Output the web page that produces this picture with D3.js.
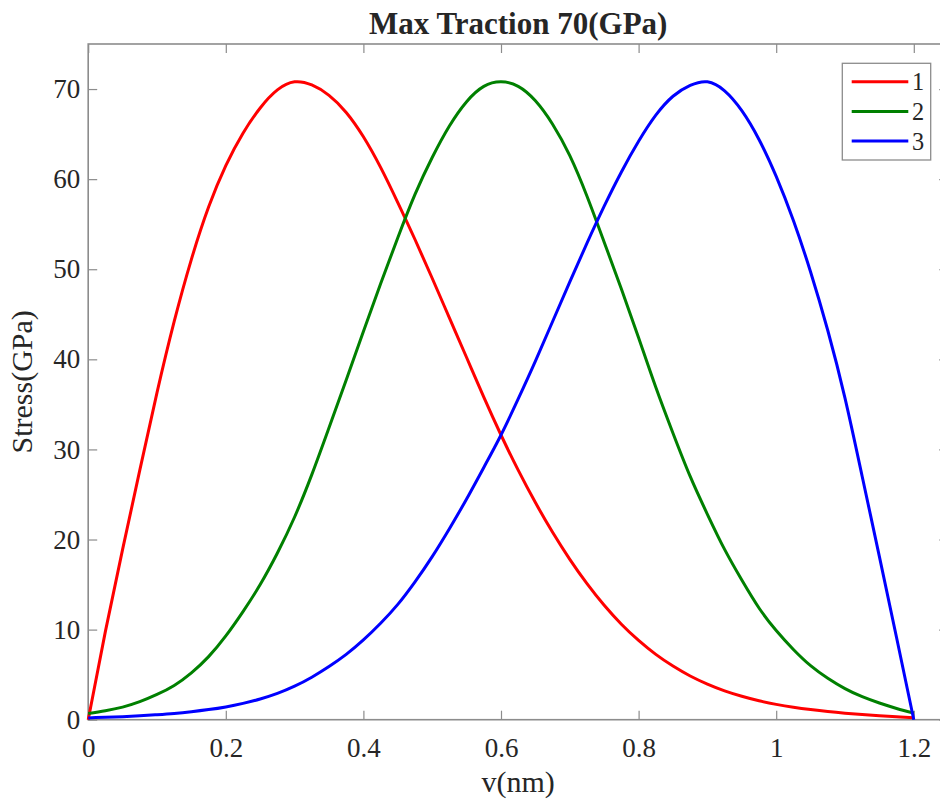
<!DOCTYPE html>
<html>
<head>
<meta charset="utf-8">
<script src="https://cdn.jsdelivr.net/npm/d3@7"></script>
<style>
  html, body { margin: 0; padding: 0; background: #fff; overflow: hidden; }
  svg { display: block; }
  text { font-family: "Liberation Serif", "Times New Roman", serif; fill: #262626; }
</style>
</head>
<body>
<script>
// ---- data ----
const displacement = [0,0.025,0.05,0.075,0.1,0.125,0.15,0.175,0.2,0.225,0.25,0.275,0.3,0.325,0.35,0.375,0.4,0.425,0.45,0.475,0.5,0.525,0.55,0.575,0.6,0.625,0.65,0.675,0.7,0.725,0.75,0.775,0.8,0.825,0.85,0.875,0.9,0.925,0.95,0.975,1.0,1.025,1.05,1.075,1.1,1.125,1.15,1.175,1.2];
const series1 = [0,9.8,18.9,27.7,36.3,44.2,51.1,56.9,61.5,65.1,67.9,69.9,70.8,70.45,69.3,67.4,64.7,61.3,57.4,53.3,49.0,44.6,40.2,35.8,31.6,27.7,24.1,20.8,17.8,15.1,12.7,10.6,8.8,7.25,5.95,4.85,3.95,3.2,2.6,2.1,1.7,1.38,1.12,0.9,0.72,0.57,0.44,0.33,0.23];
const series2 = [0.7,1.0,1.4,2.0,2.8,3.8,5.2,7.0,9.3,12.0,15.0,18.5,22.5,27.2,32.4,37.7,43.1,48.4,53.5,58.3,62.4,65.9,68.6,70.3,70.8,70.3,68.7,66.1,62.6,58.1,53.0,47.8,42.4,36.9,31.8,27.0,22.8,18.9,15.5,12.4,9.9,7.8,6.0,4.6,3.45,2.55,1.85,1.25,0.75];
const series3 = [0.2,0.27,0.34,0.43,0.55,0.69,0.88,1.12,1.42,1.81,2.3,2.92,3.72,4.72,5.9,7.25,8.85,10.7,12.8,15.3,18.1,21.2,24.5,28.0,31.6,35.6,39.8,44.2,48.6,52.9,57.0,60.8,64.2,67.1,69.2,70.4,70.8,69.8,67.6,64.4,60.3,55.4,49.7,43.2,35.7,27.0,18.1,9.1,0];
const seriesNames = ["1","2","3"];
const seriesColors = ["#ff0000","#008000","#0000ff"];
const xTicks = [0,0.2,0.4,0.6,0.8,1,1.2];
const xTickLabels = ["0","0.2","0.4","0.6","0.8","1","1.2"];
const yTicks = [0,10,20,30,40,50,60,70];
const xDomain = [0,1.25];
const yDomain = [0,75];
const titleText = "Max Traction 70(GPa)";
const xLabelText = "v(nm)";
const yLabelText = "Stress(GPa)";

// ---- layout ----
const W = 940, H = 800;
const L = 88.2, R = 948.2, T = 44, B = 719.7;

const svg = d3.select("body").append("svg").attr("width", W).attr("height", H);

const x = d3.scaleLinear().domain(xDomain).range([L, R]);
const y = d3.scaleLinear().domain(yDomain).range([B, T]);

const axisColor = "#8c8c8c";
const tickLen = 9;
const serif = '"Liberation Serif", "Times New Roman", serif';

// box
svg.append("rect").attr("x", L).attr("y", T).attr("width", R - L).attr("height", B - T)
  .attr("fill", "none").attr("stroke", axisColor).attr("stroke-width", 1.6);

// axes (ticks inside)
function styleAxis(g) {
  g.attr("font-family", serif);
  g.select(".domain").remove();
  g.selectAll(".tick line").attr("stroke", axisColor).attr("stroke-width", 1.2);
}
const xb = svg.append("g").attr("transform", `translate(0,${B})`)
  .call(d3.axisBottom(x).tickValues(xTicks).tickSize(-tickLen).tickFormat((d,i) => xTickLabels[i]).tickPadding(18));
styleAxis(xb);
xb.selectAll(".tick text").attr("font-size", 27).attr("fill", "#262626").attr("dy", "0.71em");
const xt = svg.append("g").attr("transform", `translate(0,${T})`)
  .call(d3.axisTop(x).tickValues(xTicks).tickSize(-tickLen).tickFormat(""));
styleAxis(xt);

const yl = svg.append("g").attr("transform", `translate(${L},0)`)
  .call(d3.axisLeft(y).tickValues(yTicks).tickSize(-tickLen).tickPadding(8).tickFormat(d3.format("d")));
styleAxis(yl);
yl.selectAll(".tick text").attr("font-size", 27).attr("fill", "#262626");
const yr = svg.append("g").attr("transform", `translate(${R},0)`)
  .call(d3.axisRight(y).tickValues(yTicks).tickSize(-tickLen).tickFormat(""));
styleAxis(yr);

// lines
const allSeries = [series1, series2, series3];
const line = d3.line().x((d, i) => x(displacement[i])).y(d => y(d)).curve(d3.curveNatural);
allSeries.forEach((s, k) => {
  svg.append("path").datum(s).attr("d", line)
    .attr("fill", "none").attr("stroke", seriesColors[k]).attr("stroke-width", 3)
    .attr("stroke-linejoin", "round");
});

// title and labels
svg.append("text").attr("x", (L + R) / 2).attr("y", 33.5).attr("text-anchor", "middle")
  .attr("font-size", 31).attr("font-weight", "bold").attr("fill", "#000").text(titleText);
svg.append("text").attr("x", (L + R) / 2).attr("y", 792).attr("text-anchor", "middle")
  .attr("font-size", 30).text(xLabelText);
svg.append("text").attr("transform", `translate(32,${(T + B) / 2}) rotate(-90)`).attr("text-anchor", "middle")
  .attr("font-size", 30).text(yLabelText);

// legend
const lg = svg.append("g");
lg.append("rect").attr("x", 842.3).attr("y", 63.3).attr("width", 88.4).attr("height", 96.7)
  .attr("fill", "#fff").attr("stroke", axisColor).attr("stroke-width", 1.3);
seriesNames.forEach((n, k) => {
  const ly = 81.7 + k * 29.7;
  lg.append("line").attr("x1", 851.7).attr("x2", 908.3).attr("y1", ly).attr("y2", ly)
    .attr("stroke", seriesColors[k]).attr("stroke-width", 3);
  lg.append("text").attr("x", 912).attr("y", ly + 8.5).attr("font-size", 24.3).text(n);
});
</script>
</body>
</html>
